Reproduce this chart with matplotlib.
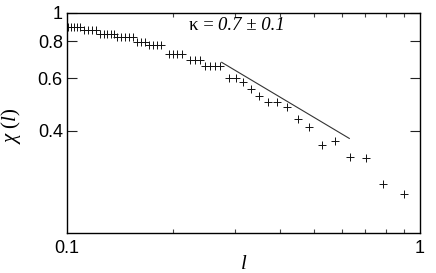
import matplotlib
matplotlib.use("Agg")
import matplotlib.pyplot as plt
from matplotlib.ticker import FixedLocator, FixedFormatter, NullLocator

plt.rcParams['font.family'] = 'Liberation Sans'
plt.rcParams['mathtext.fontset'] = 'custom'
plt.rcParams['mathtext.rm'] = 'Liberation Serif'
plt.rcParams['mathtext.it'] = 'Liberation Serif:italic'

# measured chi(l) points
l_vals = [0.1007, 0.1026, 0.1047, 0.1067, 0.1089,
          0.1117, 0.1147, 0.1177, 0.1208,
          0.1240, 0.1273, 0.1298, 0.1332, 0.1359,
          0.1386, 0.1422, 0.1460, 0.1498, 0.1538,
          0.1579, 0.1621, 0.1663,
          0.1707, 0.1752, 0.1799, 0.1846,
          0.1945, 0.1996, 0.2049, 0.2117,
          0.2231, 0.2305, 0.2381,
          0.2460, 0.2542, 0.2626, 0.2713,
          0.2876, 0.3011, 0.3152, 0.3320, 0.3499, 0.3710, 0.3934, 0.4201,
          0.4513, 0.4849, 0.5278, 0.5744, 0.6335, 0.7031, 0.7857, 0.9009]
chi_vals = [0.897] * 5 + [0.871] * 4 + [0.847] * 5 + [0.826] * 5 + \
           [0.798] * 3 + [0.778] * 4 + [0.728] * 4 + [0.695] * 3 + [0.663] * 4 + \
           [0.604, 0.604, 0.583, 0.552, 0.523, 0.499, 0.499, 0.482,
            0.437, 0.411, 0.357, 0.369, 0.325, 0.322, 0.265, 0.244]

# power-law guide, slope -kappa
fit_l = [0.2743, 0.6305]
fit_chi = [0.680, 0.3764]

y_ticks = [0.4, 0.6, 0.8, 1.0]
y_ticklabels = ['0.4', '0.6', '0.8', '1']
x_ticks = [0.1, 1.0]
x_ticklabels = ['0.1', '1']
x_minor = [0.2, 0.3, 0.4, 0.5, 0.6, 0.7, 0.8, 0.9]

fig = plt.figure(figsize=(4.36, 2.73), dpi=100)
ax = fig.add_axes([0.1537, 0.1454, 0.8096, 0.808])

ax.plot(l_vals, chi_vals, linestyle='none', marker='+', markersize=5.5,
        markeredgewidth=0.7, color='#111111')
ax.plot(fit_l, fit_chi, color='#333333', lw=0.8)

ax.set_xscale('log')
ax.set_yscale('log')
ax.set_xlim(0.1, 1.0)
ax.set_ylim(0.18, 1.0)

ax.xaxis.set_major_locator(FixedLocator(x_ticks))
ax.xaxis.set_major_formatter(FixedFormatter(x_ticklabels))
ax.xaxis.set_minor_locator(FixedLocator(x_minor))
ax.xaxis.set_minor_formatter(FixedFormatter([''] * len(x_minor)))
ax.yaxis.set_major_locator(FixedLocator(y_ticks))
ax.yaxis.set_major_formatter(FixedFormatter(y_ticklabels))
ax.yaxis.set_minor_locator(NullLocator())

ax.tick_params(axis='y', which='major', direction='in', length=7.5, width=0.8,
               left=True, right=True, labelsize=13, pad=3, colors='#222222',
               labelcolor='black')
ax.tick_params(axis='x', which='major', direction='in', length=0,
               top=True, bottom=True, labelsize=13, pad=5)
ax.tick_params(axis='x', which='minor', direction='in', length=3, width=0.8,
               top=True, bottom=True, colors='#444444')

for s in ax.spines.values():
    s.set_linewidth(1.0)
    s.set_color('black')

# annotation: upright kappa, italic value
kap = ax.text(0.345, 0.944, '\u03ba = ', transform=ax.transAxes,
              ha='left', va='center', fontsize=13.5, family='Liberation Serif')
ax.annotate('0.7 \u00b1 0.1', xy=(1, 0.5), xycoords=kap, ha='left', va='center',
            fontsize=13.5, family='Liberation Serif', style='italic')

ax.set_xlabel(r'$l$', fontsize=15)
ax.xaxis.set_label_coords(0.501, -0.095)
ax.set_ylabel(r'$\chi\ (l)$', fontsize=15)
ax.yaxis.set_label_coords(-0.125, 0.49)

fig.savefig('out.png', dpi=100)
